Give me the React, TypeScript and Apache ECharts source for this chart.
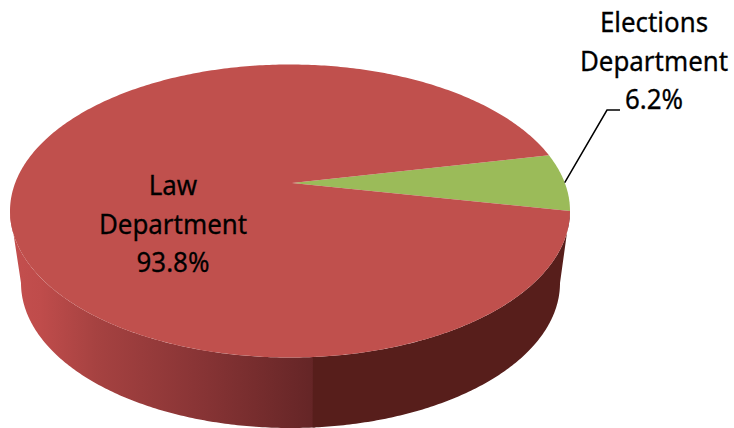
import React, { useEffect, useRef } from "react";
import * as echarts from "echarts";

const categories = ["Elections\nDepartment", "Law\nDepartment"];
const shares = [6.2, 93.8];
const percentLabels = ["6.2%", "93.8%"];
const sliceColors = ["#9bbb59", "#c0504d"];

const FACE = { cx: 290, cy: 211, rx: 280, ry: 146.5, tipX: 292, tipY: 183 };
const BASE = { cx: 290.5, cy: 283, rx: 269.5, ry: 145 };
const SEAM_DEG = 85.3;
const FONT = '"Noto Sans", sans-serif';
const FONT_SIZE = 28;
const TEXT_SQUEEZE = 0.925;

const rad = (d: number) => (d * Math.PI) / 180;
const onFace = (deg: number) => [FACE.cx + FACE.rx * Math.cos(rad(deg)), FACE.cy - FACE.ry * Math.sin(rad(deg))];
const onBase = (deg: number) => [BASE.cx + BASE.rx * Math.cos(rad(deg)), BASE.cy - BASE.ry * Math.sin(rad(deg))];

function arc(fn: (d: number) => number[], from: number, to: number) {
  const n = Math.max(2, Math.ceil(Math.abs(to - from) * 1.5));
  const pts: number[][] = [];
  for (let i = 0; i <= n; i++) pts.push(fn(from + ((to - from) * i) / n));
  return pts;
}

const poly = (points: number[][], fill: any, z2 = 0) => ({
  type: "polygon",
  z2,
  shape: { points },
  style: { fill },
});

const hGrad = (stops: [number, string][]) => ({
  type: "linear", x: 0, y: 0, x2: 1, y2: 0,
  colorStops: stops.map(([offset, color]) => ({ offset, color })),
});

export default function App() {
  const ref = useRef<HTMLDivElement>(null);
  useEffect(() => {
    const chart = echarts.init(ref.current!, null, { renderer: "svg" });
    const total = shares.reduce((a, b) => a + b, 0);
    chart.setOption({
      animation: false,
      backgroundColor: "#ffffff",
      series: [
        {
          type: "custom",
          coordinateSystem: "none",
          silent: true,
          data: shares.map((v, i) => ({ name: categories[i], value: v })),
          renderItem: (params: any, api: any) => {
            const i = params.dataIndex;
            const before = shares.slice(0, i).reduce((a, b) => a + b, 0);
            const start = (before / total) * 360;
            const end = ((before + Number(api.value(0))) / total) * 360;
            const mid = (start + end) / 2;
            const children: any[] = [];
            // side wall: visible only for the part of the slice in the front half
            const wallFrom = Math.max(start, 180);
            const wallTo = Math.min(end, 360);
            if (wallTo > wallFrom) {
              const seam = 360 - SEAM_DEG;
              children.push(
                poly(
                  [...arc(onFace, wallFrom, seam + 0.6), ...arc(onBase, seam + 0.6, wallFrom)],
                  hGrad([[0, "#c44f4e"], [0.1, "#bf4c4b"], [0.28, "#a64241"], [0.6, "#8a3536"], [1, "#642526"]]),
                  1
                ),
                poly([...arc(onFace, seam, wallTo), ...arc(onBase, wallTo, seam)], "#571e1b", 1)
              );
            }
            // top face
            children.push(
              poly([[FACE.tipX, FACE.tipY], ...arc(onFace, start, end)], sliceColors[i], 2)
            );
            // labels
            if (i === 0) {
              const p = onFace(mid);
              children.push({
                type: "polyline",
                z2: 3,
                shape: { points: [p, [607, 110], [620, 110]] },
                style: { stroke: "#000000", lineWidth: 1.5, fill: "none" },
              });
            }
            const pos = i === 0 ? [654, 60] : [173, 223];
            children.push({
              type: "text",
              z2: 4,
              x: pos[0],
              y: pos[1],
              scaleX: TEXT_SQUEEZE,
              style: {
                text: categories[i] + "\n" + percentLabels[i],
                fill: "#000000",
                stroke: "#000000",
                lineWidth: 0.3,
                font: `${FONT_SIZE}px ${FONT}`,
                lineHeight: 38.5,
                align: "center",
                verticalAlign: "middle",
              },
            });
            return { type: "group", children };
          },
        },
      ],
    });
    return () => chart.dispose();
  }, []);
  return <div ref={ref} style={{ position: "absolute", left: 0, top: 0, width: 734, height: 428 }} />;
}
